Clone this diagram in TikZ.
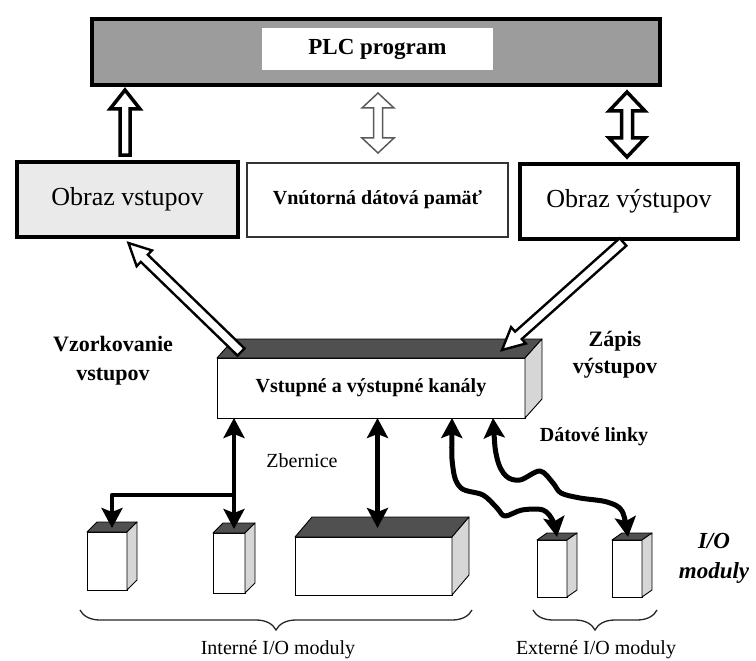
\documentclass[tikz,border=0pt]{standalone}
\usepackage{fontspec}
\setmainfont{Liberation Serif}
\usetikzlibrary{calc,arrows.meta,decorations.pathreplacing}

\definecolor{plcgray}{HTML}{9C9C9C}
\definecolor{topgray}{HTML}{505050}
\definecolor{sidegray}{HTML}{D6D6D6}
\definecolor{lightfill}{HTML}{EAEAEA}
\definecolor{midgray}{HTML}{5A5A5A}

\tikzset{
  fr/.style 2 args={font=\fontsize{#1}{#2}\selectfont},
  fb/.style 2 args={font=\fontsize{#1}{#2}\selectfont\bfseries},
  fbi/.style 2 args={font=\fontsize{#1}{#2}\selectfont\bfseries\itshape},
  bigbox/.style={draw=black, line width=4.5pt, outer sep=0pt, inner sep=0pt},
  thinbox/.style={draw=black!80, line width=1.3pt, outer sep=0pt, inner sep=0pt},
  module/.style={draw=black, fill=white, line width=0.9pt, outer sep=0pt, inner sep=0pt},
  topface/.style={fill=topgray, draw=black, line width=0.9pt, line join=round},
  sideface/.style={fill=sidegray, draw=black, line width=0.9pt, line join=round},
  blkarrow/.style={draw=black, fill=white, line width=3.5pt, line join=miter},
  grayarrow/.style={draw=midgray, fill=white, line width=1.5pt, line join=miter},
  diagarrow/.style={draw=black, fill=white, line width=2.4pt, line join=miter},
  tipa/.tip={Stealth[length=20pt,width=21pt,inset=4pt]},
  bus/.style={line width=4.5pt, tipa-tipa},
  busend/.style={line width=4.5pt, -tipa, line join=round},
  wavy/.style={line width=5pt, tipa-tipa, line join=round},
  bracestyle/.style={decorate, decoration={brace, mirror, amplitude=20pt}, line width=1.3pt, draw=black!85},
}

% single block arrow: style, from, to, shaft half width, head half width, head length
\newcommand\blockarrow[6]{%
  \coordinate (baN) at ($(#3)!#6!(#2)$);
  \draw[#1] ($(#2)!#4!90:(#3)$) -- ($(baN)!#4!90:(#3)$) -- ($(baN)!#5!90:(#3)$) -- (#3)
    -- ($(baN)!#5!-90:(#3)$) -- ($(baN)!#4!-90:(#3)$) -- ($(#2)!#4!-90:(#3)$) -- cycle;}
% double block arrow
\newcommand\dblockarrow[6]{%
  \coordinate (baN) at ($(#3)!#6!(#2)$);
  \coordinate (baM) at ($(#2)!#6!(#3)$);
  \draw[#1] (#2) -- ($(baM)!#5!90:(#3)$) -- ($(baM)!#4!90:(#3)$) -- ($(baN)!#4!90:(#3)$)
    -- ($(baN)!#5!90:(#3)$) -- (#3) -- ($(baN)!#5!-90:(#3)$) -- ($(baN)!#4!-90:(#3)$)
    -- ($(baM)!#4!-90:(#3)$) -- ($(baM)!#5!-90:(#3)$) -- cycle;}
% 3D faces of a box node: node, dx, dy
\newcommand\cubefaces[3]{%
  \draw[topface] (#1.north west) -- ++(#2,-#3) -- ([shift={(#2,-#3)}]#1.north east) -- (#1.north east) -- cycle;
  \draw[sideface] (#1.north east) -- ++(#2,-#3) -- ([shift={(#2,-#3)}]#1.south east) -- (#1.south east) -- cycle;}

\begin{document}
\begin{tikzpicture}[x=1pt,y=-1pt]
\fill[white] (0,0) rectangle (756,661);
\useasboundingbox (0,0) rectangle (756,661);

% PLC program
\node[bigbox, fill=plcgray, minimum width=568pt, minimum height=66pt] (plc) at (376,52) {};
\node[fill=white, minimum width=231pt, minimum height=42pt, fb={23}{28}] (plct) at (377.5,49) {PLC program};

% image boxes
\node[bigbox, fill=lightfill, minimum width=221pt, minimum height=75pt, fr={26}{30}] (ovs) at (127.5,199.5) {Obraz vstupov};
\node[thinbox, fill=white, minimum width=261pt, minimum height=74pt, fb={20}{24}] (mem) at (377.5,200) {Vnútorná dátová pamäť};
\node[bigbox, fill=white, minimum width=218pt, minimum height=75pt, fr={26}{30}] (ovy) at (629,201.5) {Obraz výstupov};

% vertical block arrows
\coordinate (a1b) at ($(ovs.north)+(-2.5,-7)$);
\coordinate (a1t) at ($(a1b |- plc.south)+(0,5)$);
\blockarrow{blkarrow}{a1b}{a1t}{5pt}{15pt}{19pt}
\coordinate (a2b) at ($(mem.north)+(0.5,-10)$);
\coordinate (a2t) at ($(a2b |- plc.south)+(0,8)$);
\dblockarrow{grayarrow}{a2b}{a2t}{4.5pt}{16pt}{15pt}
\coordinate (a3b) at ($(ovy.north)+(-2,-7)$);
\coordinate (a3t) at ($(a3b |- plc.south)+(0,7)$);
\dblockarrow{blkarrow}{a3b}{a3t}{5.5pt}{18pt}{19pt}

% channels
\node[module, minimum width=308pt, minimum height=60pt, fb={20}{24}] (chan) at (371,388) {Vstupné a výstupné kanály};
\cubefaces{chan}{17}{19}

% diagonal arrows
\coordinate (d1a) at ($(chan.north west)+(24,-6)$);
\coordinate (d1b) at ($(ovs.south)+(1,6)$);
\blockarrow{diagarrow}{d1a}{d1b}{5pt}{11pt}{22pt}
\coordinate (d2a) at ($(ovy.south)+(-6,3)$);
\coordinate (d2b) at ($(chan.north east)+(-23,-8)$);
\blockarrow{diagarrow}{d2a}{d2b}{5pt}{11pt}{22pt}

% labels
\node[fb={22}{29}, align=center] (vz) at (113,361) {Vzorkovanie\\vstupov};
\node[fb={22}{27}, align=center] (zap) at (615,355) {Zápis\\výstupov};
\node[fb={20}{24}] (dl) at (594,437) {Dátové linky};
\node[fr={20}{24}] (zb) at (302,461) {Zbernice};
\node[fbi={23}{30}, align=center] (iom) at (714,558) {I/O\\moduly};

% modules
\node[module, minimum width=40pt, minimum height=58pt] (m1) at (107,561) {};
\cubefaces{m1}{10}{10}
\node[module, minimum width=32pt, minimum height=60pt] (m2) at (229,563) {};
\cubefaces{m2}{10}{10}
\node[module, minimum width=157pt, minimum height=58pt] (m3) at (373.5,566) {};
\cubefaces{m3}{17}{20}
\node[module, minimum width=30pt, minimum height=57pt] (m4) at (552,568.5) {};
\cubefaces{m4}{10}{7}
\node[module, minimum width=30pt, minimum height=57pt] (m5) at (627,568.5) {};
\cubefaces{m5}{10}{7}

\coordinate (m1t) at ($(m1.north)+(5,-4)$);
\coordinate (m2t) at ($(m2.north)+(5,-4)$);
\coordinate (m3t) at ($(m3.north)+(4,-9)$);
\coordinate (m4t) at ($(m4.north)+(5,-3)$);
\coordinate (m5t) at ($(m5.north)+(1,-3)$);

% bus
\draw[bus] (m2t |- chan.south) -- (m2t);
\coordinate (jn) at ($(m2t |- chan.south)+(0,77)$);
\draw[busend] (jn) -| (m1t);
\draw[bus] (m3t |- chan.south) -- (m3t);

% data links
\coordinate (w1a) at ($(chan.south west)+(235,0)$);
\coordinate (w2a) at ($(chan.south west)+(276,0)$);
\draw[wavy] plot[smooth, tension=0.55] coordinates {(w1a) (453,468) (461,488) (483,495) (497,508) (505,516) (522,510) (543,510) (553,521) (m4t)};
\draw[wavy] plot[smooth, tension=0.55] coordinates {(w2a) (497,458) (506,476) (520,480) (540,471) (553,483) (561,493) (580,498) (607,502) (622,511) (m5t)};

% braces
\draw[bracestyle] (80,610) -- (472,610);
\draw[bracestyle] (533,610) -- (657,610);
\node[fr={20}{24}] (intl) at (278,650) {Interné I/O moduly};
\node[fr={20}{24}] (extl) at (596,650) {Externé I/O moduly};
\end{tikzpicture}
\end{document}
